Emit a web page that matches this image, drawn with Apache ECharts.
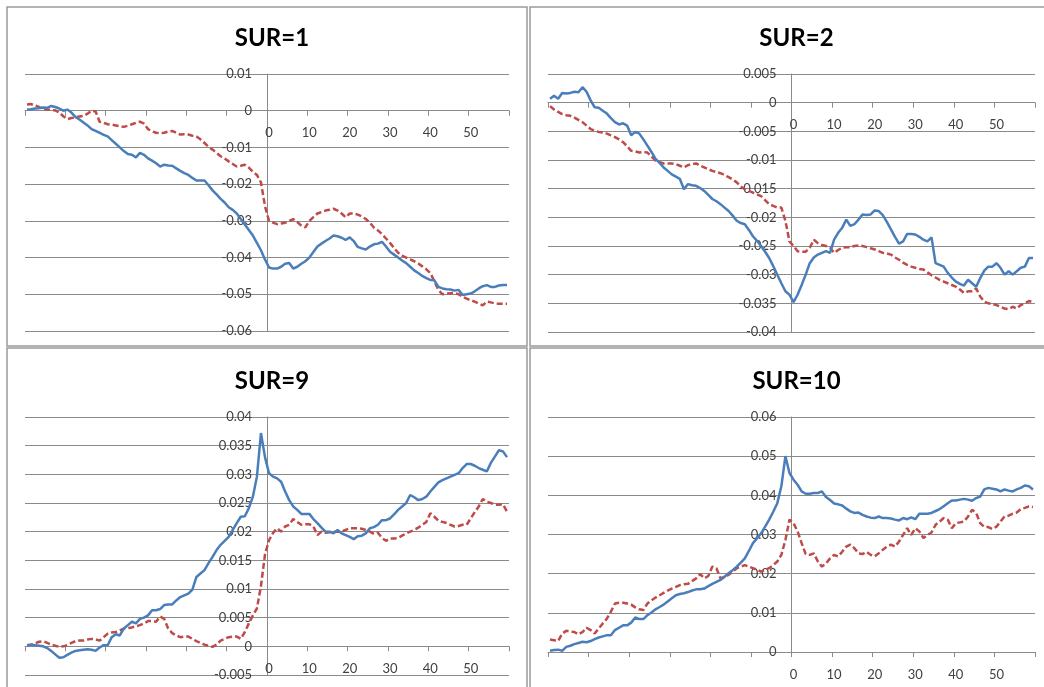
<!DOCTYPE html>
<html>
<head>
<meta charset="utf-8">
<script src="https://cdn.jsdelivr.net/npm/echarts@6/dist/echarts.min.js"></script>
<style>
html,body{margin:0;padding:0;background:#fff;}
#c{width:1044px;height:687px;}
</style>
</head>
<body>
<div id="c"></div>
<script>
// Event days (category axis values)
const days = [-60,-59,-58,-57,-56,-55,-54,-53,-52,-51,-50,-49,-48,-47,-46,-45,-44,-43,-42,-41,
-40,-39,-38,-37,-36,-35,-34,-33,-32,-31,-30,-29,-28,-27,-26,-25,-24,-23,-22,-21,
-20,-19,-18,-17,-16,-15,-14,-13,-12,-11,-10,-9,-8,-7,-6,-5,-4,-3,-2,-1,
0,1,2,3,4,5,6,7,8,9,10,11,12,13,14,15,16,17,18,19,20,21,22,23,24,25,26,27,28,29,
30,31,32,33,34,35,36,37,38,39,40,41,42,43,44,45,46,47,48,49,50,51,52,53,54,55,56,57,58,59];

const titles = ['SUR=1','SUR=2','SUR=9','SUR=10'];
const xTickLabels = [0,10,20,30,40,50];
const xMin = -60, xMax = 60, xStep = 10;
const yMin = [-0.06,-0.04,-0.005,0];
const yMax = [0.01,0.005,0.04,0.06];
const yStep = [0.01,0.005,0.005,0.01];

const sur1Blue = [0.0003,0.0004,0.0006,0.0007,0.0009,0.0008,0.0013,0.0010,0.0006,0.0000,
0.0003,-0.0005,-0.0017,-0.0024,-0.0032,-0.0040,-0.0050,-0.0055,-0.0060,-0.0066,
-0.0070,-0.0080,-0.0090,-0.0100,-0.0110,-0.0118,-0.0120,-0.0127,-0.0115,-0.0120,
-0.0130,-0.0136,-0.0143,-0.0152,-0.0147,-0.0149,-0.0150,-0.0157,-0.0164,-0.0170,
-0.0175,-0.0183,-0.0190,-0.0190,-0.0190,-0.0203,-0.0217,-0.0228,-0.0240,-0.0250,
-0.0263,-0.0270,-0.0280,-0.0295,-0.0310,-0.0325,-0.0340,-0.0360,-0.0380,-0.0405,
-0.0427,-0.0430,-0.0430,-0.0425,-0.0417,-0.0415,-0.0430,-0.0425,-0.0417,-0.0410,
-0.0400,-0.0385,-0.0370,-0.0362,-0.0355,-0.0348,-0.0340,-0.0342,-0.0346,-0.0352,
-0.0345,-0.0355,-0.0371,-0.0375,-0.0378,-0.0370,-0.0364,-0.0362,-0.0357,-0.0370,
-0.0384,-0.0392,-0.0400,-0.0408,-0.0415,-0.0425,-0.0435,-0.0442,-0.0450,-0.0456,
-0.0461,-0.0462,-0.0480,-0.0484,-0.0486,-0.0487,-0.0490,-0.0488,-0.0502,-0.0500,
-0.0498,-0.0492,-0.0484,-0.0478,-0.0475,-0.0480,-0.0480,-0.0476,-0.0475,-0.0475];
const sur1Red = [0.0017,0.0018,0.0014,0.0010,0.0005,0.0003,0.0002,0.0001,-0.0005,-0.0015,
-0.0023,-0.0020,-0.0018,-0.0016,-0.0014,-0.0008,0.0000,-0.0002,-0.0030,-0.0033,
-0.0037,-0.0038,-0.0040,-0.0042,-0.0044,-0.0041,-0.0037,-0.0033,-0.0030,-0.0035,
-0.0050,-0.0056,-0.0060,-0.0061,-0.0060,-0.0057,-0.0055,-0.0060,-0.0065,-0.0064,
-0.0065,-0.0068,-0.0070,-0.0078,-0.0088,-0.0098,-0.0106,-0.0115,-0.0124,-0.0130,
-0.0138,-0.0145,-0.0152,-0.0150,-0.0147,-0.0155,-0.0166,-0.0175,-0.0195,-0.0260,
-0.0300,-0.0305,-0.0309,-0.0307,-0.0305,-0.0300,-0.0295,-0.0303,-0.0313,-0.0318,
-0.0300,-0.0290,-0.0280,-0.0276,-0.0272,-0.0270,-0.0267,-0.0272,-0.0280,-0.0290,
-0.0280,-0.0280,-0.0283,-0.0288,-0.0295,-0.0305,-0.0318,-0.0326,-0.0336,-0.0348,
-0.0360,-0.0374,-0.0387,-0.0395,-0.0400,-0.0405,-0.0410,-0.0416,-0.0424,-0.0432,
-0.0442,-0.0465,-0.0488,-0.0500,-0.0498,-0.0497,-0.0496,-0.0500,-0.0507,-0.0512,
-0.0516,-0.0520,-0.0525,-0.0530,-0.0520,-0.0522,-0.0525,-0.0526,-0.0526,-0.0526];

const sur2Blue = [0.0007,0.0012,0.0007,0.0017,0.0016,0.0017,0.0019,0.0018,0.0027,0.0019,
0.0004,-0.0008,-0.0009,-0.0014,-0.0019,-0.0027,-0.0034,-0.0038,-0.0036,-0.0040,
-0.0057,-0.0051,-0.0054,-0.0064,-0.0075,-0.0086,-0.0098,-0.0105,-0.0113,-0.0119,
-0.0125,-0.0129,-0.0133,-0.0151,-0.0142,-0.0144,-0.0145,-0.0149,-0.0154,-0.0161,
-0.0168,-0.0172,-0.0177,-0.0183,-0.0189,-0.0197,-0.0206,-0.0210,-0.0212,-0.0222,
-0.0233,-0.0241,-0.0250,-0.0260,-0.0271,-0.0285,-0.0300,-0.0315,-0.0329,-0.0335,
-0.0348,-0.0335,-0.0318,-0.0300,-0.0280,-0.0270,-0.0265,-0.0262,-0.0259,-0.0262,
-0.0239,-0.0227,-0.0218,-0.0204,-0.0215,-0.0212,-0.0204,-0.0195,-0.0196,-0.0195,
-0.0188,-0.0189,-0.0196,-0.0208,-0.0221,-0.0234,-0.0246,-0.0242,-0.0229,-0.0229,
-0.0230,-0.0234,-0.0239,-0.0242,-0.0235,-0.0280,-0.0283,-0.0286,-0.0297,-0.0305,
-0.0312,-0.0316,-0.0319,-0.0309,-0.0315,-0.0321,-0.0306,-0.0293,-0.0286,-0.0286,
-0.0280,-0.0288,-0.0300,-0.0294,-0.0300,-0.0294,-0.0288,-0.0286,-0.0271,-0.0271];
const sur2Red = [-0.0006,-0.0012,-0.0016,-0.0020,-0.0022,-0.0023,-0.0026,-0.0030,-0.0034,-0.0040,
-0.0046,-0.0049,-0.0051,-0.0052,-0.0054,-0.0057,-0.0060,-0.0064,-0.0069,-0.0076,
-0.0084,-0.0085,-0.0087,-0.0086,-0.0087,-0.0094,-0.0101,-0.0104,-0.0106,-0.0106,
-0.0106,-0.0107,-0.0110,-0.0113,-0.0109,-0.0107,-0.0106,-0.0110,-0.0113,-0.0116,
-0.0119,-0.0121,-0.0123,-0.0126,-0.0130,-0.0134,-0.0139,-0.0146,-0.0151,-0.0154,
-0.0157,-0.0160,-0.0163,-0.0170,-0.0177,-0.0180,-0.0183,-0.0183,-0.0206,-0.0242,
-0.0250,-0.0259,-0.0260,-0.0260,-0.0253,-0.0239,-0.0245,-0.0248,-0.0250,-0.0253,
-0.0262,-0.0257,-0.0253,-0.0252,-0.0252,-0.0250,-0.0249,-0.0250,-0.0252,-0.0254,
-0.0256,-0.0259,-0.0262,-0.0263,-0.0265,-0.0270,-0.0274,-0.0279,-0.0283,-0.0286,
-0.0288,-0.0290,-0.0291,-0.0296,-0.0301,-0.0305,-0.0309,-0.0312,-0.0315,-0.0318,
-0.0321,-0.0326,-0.0332,-0.0329,-0.0329,-0.0324,-0.0338,-0.0347,-0.0350,-0.0351,
-0.0353,-0.0356,-0.0359,-0.0360,-0.0356,-0.0359,-0.0353,-0.0350,-0.0346,-0.0348];

const sur9Blue = [0.0002,0.0003,0.0002,0.0001,0.0000,-0.0003,-0.0008,-0.0014,-0.0020,-0.0019,
-0.0015,-0.0011,-0.0008,-0.0007,-0.0006,-0.0005,-0.0006,-0.0008,-0.0002,0.0002,
0.0002,0.0016,0.0021,0.0019,0.0031,0.0037,0.0043,0.0040,0.0048,0.0050,
0.0054,0.0063,0.0063,0.0065,0.0072,0.0073,0.0073,0.0080,0.0086,0.0089,
0.0092,0.0099,0.0121,0.0127,0.0133,0.0145,0.0156,0.0168,0.0177,0.0184,
0.0191,0.0203,0.0215,0.0226,0.0227,0.0241,0.0261,0.0296,0.0372,0.0330,
0.0302,0.0296,0.0293,0.0287,0.0270,0.0255,0.0244,0.0238,0.0231,0.0231,
0.0231,0.0222,0.0215,0.0207,0.0200,0.0200,0.0197,0.0203,0.0197,0.0194,
0.0191,0.0187,0.0192,0.0193,0.0197,0.0206,0.0208,0.0212,0.0220,0.0220,
0.0223,0.0230,0.0238,0.0244,0.0250,0.0264,0.0260,0.0255,0.0257,0.0261,
0.0270,0.0278,0.0286,0.0290,0.0293,0.0296,0.0299,0.0302,0.0311,0.0318,
0.0318,0.0315,0.0311,0.0308,0.0305,0.0320,0.0331,0.0342,0.0340,0.0330];
const sur9Red = [0.0002,0.0003,0.0005,0.0008,0.0009,0.0006,0.0003,0.0001,-0.0001,0.0000,
0.0002,0.0006,0.0009,0.0010,0.0010,0.0012,0.0013,0.0012,0.0010,0.0016,
0.0022,0.0024,0.0025,0.0028,0.0031,0.0032,0.0033,0.0035,0.0037,0.0040,
0.0044,0.0044,0.0043,0.0052,0.0048,0.0031,0.0023,0.0019,0.0016,0.0017,
0.0017,0.0013,0.0009,0.0006,0.0003,0.0001,-0.0001,0.0003,0.0010,0.0013,
0.0016,0.0017,0.0017,0.0013,0.0025,0.0040,0.0054,0.0066,0.0105,0.0160,
0.0185,0.0198,0.0206,0.0200,0.0209,0.0212,0.0222,0.0217,0.0212,0.0213,
0.0213,0.0209,0.0194,0.0200,0.0198,0.0199,0.0200,0.0200,0.0200,0.0203,
0.0206,0.0206,0.0206,0.0205,0.0203,0.0200,0.0196,0.0198,0.0189,0.0184,
0.0188,0.0188,0.0189,0.0193,0.0197,0.0200,0.0203,0.0207,0.0212,0.0217,
0.0232,0.0226,0.0219,0.0217,0.0215,0.0212,0.0209,0.0210,0.0212,0.0212,
0.0223,0.0234,0.0244,0.0257,0.0252,0.0250,0.0247,0.0247,0.0248,0.0235];

const sur10Blue = [0.0003,0.0005,0.0006,0.0003,0.0013,0.0016,0.0020,0.0023,0.0026,0.0025,
0.0028,0.0033,0.0037,0.0040,0.0043,0.0043,0.0056,0.0062,0.0068,0.0068,
0.0075,0.0088,0.0084,0.0084,0.0094,0.0101,0.0109,0.0115,0.0121,0.0129,
0.0137,0.0145,0.0148,0.0150,0.0153,0.0157,0.0160,0.0160,0.0162,0.0168,
0.0174,0.0179,0.0184,0.0192,0.0201,0.0209,0.0218,0.0228,0.0239,0.0258,
0.0278,0.0290,0.0303,0.0320,0.0338,0.0358,0.0380,0.0423,0.0500,0.0457,
0.0440,0.0427,0.0410,0.0404,0.0404,0.0406,0.0406,0.0410,0.0396,0.0388,
0.0379,0.0377,0.0374,0.0366,0.0359,0.0355,0.0356,0.0350,0.0346,0.0343,
0.0342,0.0346,0.0342,0.0342,0.0341,0.0338,0.0336,0.0342,0.0339,0.0344,
0.0339,0.0353,0.0353,0.0353,0.0355,0.0360,0.0365,0.0372,0.0380,0.0387,
0.0387,0.0389,0.0391,0.0389,0.0386,0.0393,0.0397,0.0415,0.0419,0.0417,
0.0415,0.0410,0.0415,0.0412,0.0410,0.0415,0.0419,0.0425,0.0423,0.0415];
const sur10Red = [0.0032,0.0030,0.0028,0.0047,0.0054,0.0052,0.0051,0.0045,0.0051,0.0062,
0.0056,0.0047,0.0060,0.0073,0.0085,0.0103,0.0124,0.0126,0.0126,0.0124,
0.0121,0.0114,0.0109,0.0107,0.0124,0.0132,0.0139,0.0145,0.0151,0.0157,
0.0162,0.0166,0.0171,0.0173,0.0174,0.0181,0.0188,0.0199,0.0188,0.0194,
0.0218,0.0214,0.0188,0.0192,0.0197,0.0205,0.0214,0.0218,0.0222,0.0218,
0.0214,0.0210,0.0205,0.0210,0.0214,0.0222,0.0231,0.0248,0.0286,0.0338,
0.0329,0.0308,0.0278,0.0250,0.0248,0.0252,0.0231,0.0218,0.0226,0.0239,
0.0248,0.0244,0.0256,0.0269,0.0274,0.0265,0.0252,0.0250,0.0256,0.0248,
0.0244,0.0252,0.0261,0.0269,0.0274,0.0269,0.0282,0.0299,0.0316,0.0299,
0.0316,0.0308,0.0291,0.0299,0.0305,0.0325,0.0333,0.0342,0.0338,0.0316,
0.0329,0.0331,0.0333,0.0346,0.0363,0.0355,0.0329,0.0319,0.0319,0.0314,
0.0320,0.0333,0.0346,0.0348,0.0353,0.0356,0.0365,0.0368,0.0372,0.0370];

const blueSeries = [sur1Blue, sur2Blue, sur9Blue, sur10Blue];
const redSeries = [sur1Red, sur2Red, sur9Red, sur10Red];

// layout (pixels)
const grids = [
  {left: 25, top: 74, width: 484, height: 257},
  {left: 548, top: 74, width: 487, height: 258},
  {left: 25, top: 417, width: 484, height: 258},
  {left: 548, top: 417, width: 487, height: 235}
];
const frames = [
  {x: 7, y: 7, w: 520, h: 339},
  {x: 530, y: 7, w: 530, h: 339},
  {x: 7, y: 348, w: 520, h: 350},
  {x: 530, y: 348, w: 530, h: 350}
];

const GRID_C = '#8a8a8a';
const LABEL_C = '#404040';
const FONT = 'Lato, "Open Sans", sans-serif';

const chart = echarts.init(document.getElementById('c'), null, {renderer: 'canvas'});

function fmtY(v) { return String(parseFloat(v.toFixed(4))); }

// axis crossing positions (the x axis crosses at y = 0, the y axis at x = 0)
function xAxisOffset(i) {
  return -grids[i].height * (0 - yMin[i]) / (yMax[i] - yMin[i]);
}
function yAxisOffset(i) {
  return -grids[i].width * (0 - xMin) / (xMax - xMin);
}

const option = {
  animation: false,
  backgroundColor: '#ffffff',
  title: titles.map((t, i) => ({
    text: t,
    left: grids[i].left + grids[i].width / 2,
    top: grids[i].top - 53,
    textAlign: 'center',
    textStyle: {fontFamily: FONT, fontWeight: 'bold', fontSize: 24, color: '#000'}
  })),
  graphic: frames.map(f => ({
    type: 'rect', silent: true, z: -1,
    shape: {x: f.x, y: f.y, width: f.w, height: f.h},
    style: {fill: 'none', stroke: '#9a9a9a', lineWidth: 1.5}
  })),
  grid: grids.map(g => Object.assign({containLabel: false, outerBoundsMode: 'none'}, g)),
  xAxis: grids.map((g, i) => ({
    type: 'value', gridIndex: i, min: xMin, max: xMax, interval: xStep,
    position: 'bottom', offset: xAxisOffset(i),
    axisLine: {show: true, onZero: false, lineStyle: {color: GRID_C, width: 1}},
    axisTick: {show: true, length: 5, lineStyle: {color: GRID_C}},
    splitLine: {show: false},
    axisLabel: {
      margin: 16, color: LABEL_C, fontFamily: FONT, fontSize: 13, padding: [0, 0, 0, 4],
      formatter: v => (xTickLabels.indexOf(v) >= 0 ? String(v) : '')
    }
  })),
  yAxis: grids.map((g, i) => ({
    type: 'value', gridIndex: i, min: yMin[i], max: yMax[i], interval: yStep[i],
    position: 'left', offset: yAxisOffset(i),
    axisLine: {show: true, onZero: false, lineStyle: {color: GRID_C, width: 1}},
    axisTick: {show: false},
    splitLine: {show: true, lineStyle: {color: GRID_C, width: 1}},
    axisLabel: {margin: 15, color: LABEL_C, fontFamily: FONT, fontSize: 13, formatter: fmtY}
  })),
  series: []
};

for (let i = 0; i < 4; i++) {
  option.series.push({
    type: 'line', xAxisIndex: i, yAxisIndex: i, showSymbol: false, symbol: 'none',
    data: days.map((d, k) => [d + 0.5, blueSeries[i][k]]),
    lineStyle: {color: '#4a7ebb', width: 2.5}, z: 3
  });
  option.series.push({
    type: 'line', xAxisIndex: i, yAxisIndex: i, showSymbol: false, symbol: 'none',
    data: days.map((d, k) => [d + 0.5, redSeries[i][k]]),
    lineStyle: {color: '#be4b48', width: 2.5, type: [6, 3]}, z: 2
  });
}

chart.setOption(option);
</script>
</body>
</html>
